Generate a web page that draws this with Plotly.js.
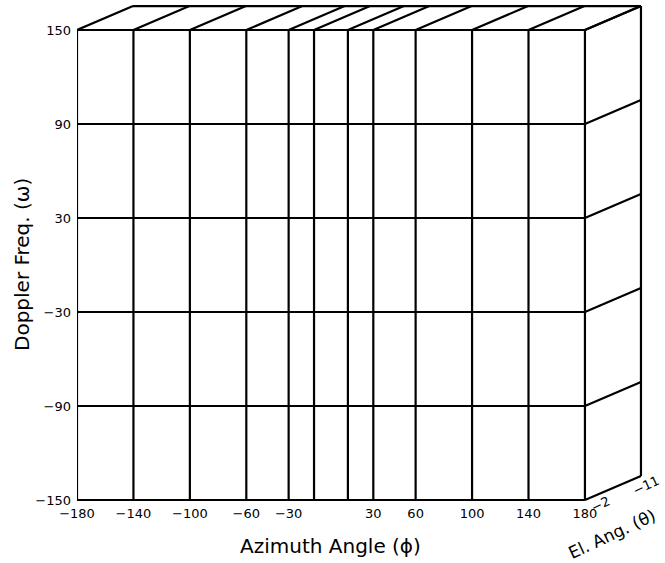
<!DOCTYPE html>
<html>
<head>
<meta charset="utf-8">
<script src="https://cdn.plot.ly/plotly-3.0.1.min.js"></script>
<style>
  html, body { margin: 0; padding: 0; background: #fff; }
  #chart { width: 665px; height: 563px; }
</style>
</head>
<body>
<div id="chart"></div>
<script>
// Grid of the Doppler / azimuth / elevation search volume
const azimuthGrid = [-180, -140, -100, -60, -30, -12, 12, 30, 60, 100, 140, 180];
const azimuthTicks = [-180, -140, -100, -60, -30, 30, 60, 100, 140, 180];
const dopplerGrid = [-150, -90, -30, 30, 90, 150];
const dopplerTicks = [-150, -90, -30, 30, 90, 150];
const elevationRange = [0, -11];   // front face -> back face
const elevationTicks = [-2, -11];

// Oblique projection of the elevation axis onto the page (in axis units)
const DEPTH_X = 39.7;
const DEPTH_Y = 15.3;

const azMin = azimuthGrid[0], azMax = azimuthGrid[azimuthGrid.length - 1];
const dMin = dopplerGrid[0], dMax = dopplerGrid[dopplerGrid.length - 1];

function depth(el) {
  return (el - elevationRange[0]) / (elevationRange[1] - elevationRange[0]);
}
function project(az, f, el) {
  const t = depth(el);
  return [az + t * DEPTH_X, f + t * DEPTH_Y];
}

function segments(pairs) {
  const x = [], y = [];
  pairs.forEach(([a, b]) => {
    x.push(a[0], b[0], null);
    y.push(a[1], b[1], null);
  });
  return { x, y };
}

const elF = elevationRange[0], elB = elevationRange[1];
const segs = [];

// front face
azimuthGrid.forEach(az => segs.push([project(az, dMin, elF), project(az, dMax, elF)]));
dopplerGrid.forEach(f => segs.push([project(azMin, f, elF), project(azMax, f, elF)]));
// top face
azimuthGrid.forEach(az => segs.push([project(az, dMax, elF), project(az, dMax, elB)]));
segs.push([project(azMin, dMax, elB), project(azMax, dMax, elB)]);
// right face
dopplerGrid.forEach(f => segs.push([project(azMax, f, elF), project(azMax, f, elB)]));
segs.push([project(azMax, dMin, elB), project(azMax, dMax, elB)]);

const box = segments(segs);

const traces = [{
  type: 'scatter',
  mode: 'lines',
  x: box.x,
  y: box.y,
  line: { color: '#000', width: 2.2 },
  hoverinfo: 'skip',
  showlegend: false,
  cliponaxis: false
}];

const FONT = 'DejaVu Sans, Verdana, sans-serif';

const annotations = [];
elevationTicks.forEach(el => {
  const p = project(azMax, dMin, el);
  annotations.push({
    x: p[0], y: p[1], xref: 'x', yref: 'y',
    text: String(el).replace('-', '\u2212'),
    showarrow: false, textangle: -25,
    xshift: 5, yshift: -9,
    font: { family: FONT, size: 13, color: '#000' }
  });
});
const mid = project(azMax, dMin, (elF + elB) / 2);
annotations.push({
  x: mid[0], y: mid[1], xref: 'x', yref: 'y',
  text: 'El. Ang. (\u03b8)', showarrow: false, textangle: -25,
  xshift: -1, yshift: -46,
  font: { family: FONT, size: 17, color: '#000' }
});
annotations.push({
  x: (azMin + azMax) / 2, y: dMin, xref: 'x', yref: 'y',
  text: 'Azimuth Angle (\u03d5)', showarrow: false,
  yshift: -46,
  font: { family: FONT, size: 20, color: '#000' }
});
annotations.push({
  x: 0, xref: 'paper', xanchor: 'center', xshift: -55,
  y: (dMin + dMax) / 2, yref: 'y',
  text: 'Doppler Freq. (\u03c9)', showarrow: false, textangle: -90,
  font: { family: FONT, size: 20, color: '#000' }
});

const layout = {
  width: 665,
  height: 563,
  margin: { l: 77, r: 16, t: 0, b: 55 },
  paper_bgcolor: '#fff',
  plot_bgcolor: '#fff',
  showlegend: false,
  xaxis: {
    range: [-180, 225.4],
    tickvals: azimuthTicks,
    ticks: '',
    ticklabelstandoff: -4,
    showgrid: false,
    zeroline: false,
    showline: false,
    fixedrange: true,
    tickfont: { family: FONT, size: 13, color: '#000' }
  },
  yaxis: {
    range: [-155.1, 169.15],
    tickvals: dopplerTicks,
    ticks: '',
    ticklabelstandoff: 5,
    showgrid: false,
    zeroline: false,
    showline: false,
    fixedrange: true,
    tickfont: { family: FONT, size: 13, color: '#000' }
  },
  annotations: annotations
};

Plotly.newPlot('chart', traces, layout, { staticPlot: true, displayModeBar: false });
</script>
</body>
</html>
